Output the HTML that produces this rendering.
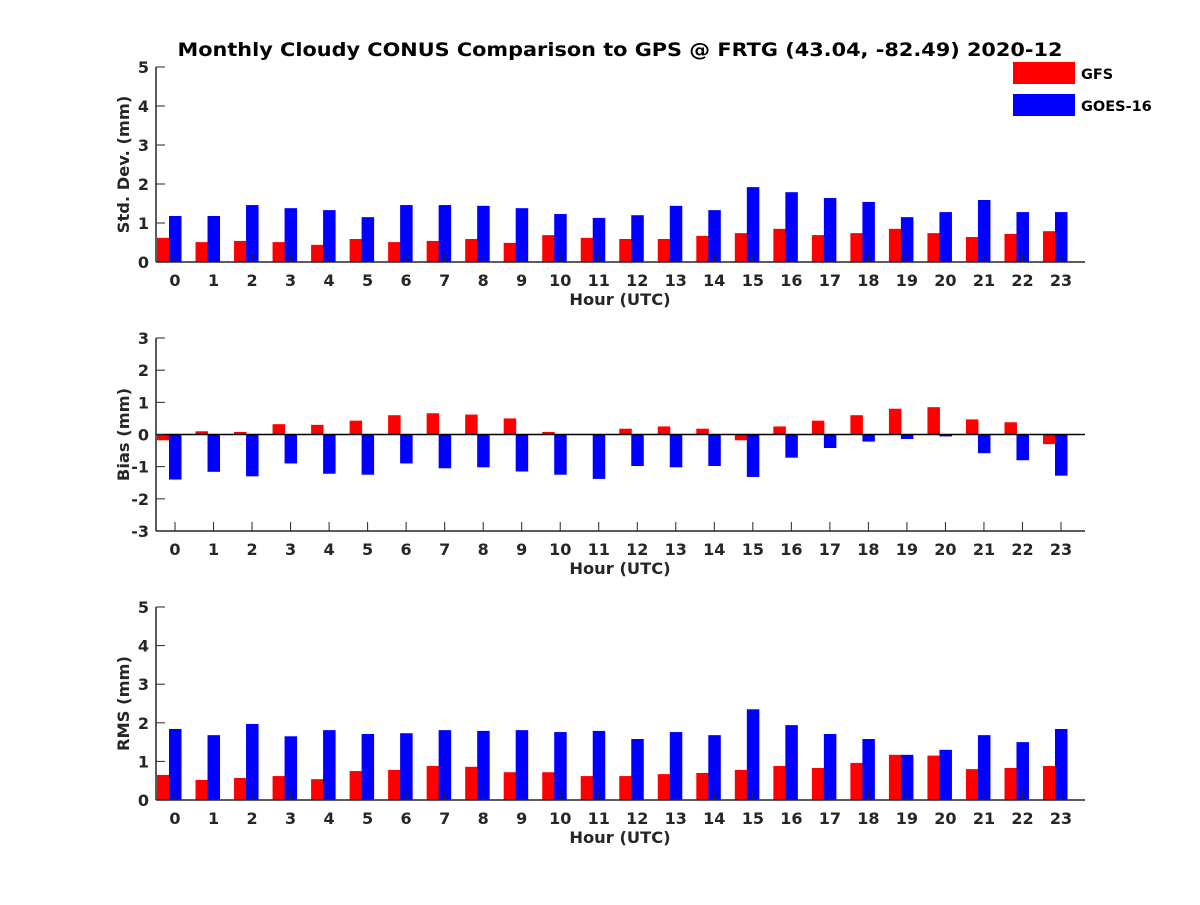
<!DOCTYPE html>
<html><head><meta charset="utf-8"><style>
body{margin:0;background:#fff;}
svg text{font-family:"DejaVu Sans","Liberation Sans",sans-serif;font-weight:bold;fill:#262626;}
</style></head><body>
<svg id="chart" width="1200" height="900">
<text x="620" y="56" text-anchor="middle" font-size="19" textLength="885" lengthAdjust="spacingAndGlyphs" style="fill:#000">Monthly Cloudy CONUS Comparison to GPS @ FRTG (43.04, -82.49) 2020-12</text>
<g>
<rect x="1013" y="62" width="62" height="22" fill="#ff0000"/>
<text x="1081" y="79" font-size="14.5" style="fill:#000">GFS</text>
<rect x="1013" y="94" width="62" height="22" fill="#0000ff"/>
<text x="1081" y="111" font-size="14.5" style="fill:#000">GOES-16</text>
</g>
</svg>
<script>
const hours=[0,1,2,3,4,5,6,7,8,9,10,11,12,13,14,15,16,17,18,19,20,21,22,23];
const stdGFS=[0.62,0.51,0.54,0.51,0.44,0.59,0.51,0.54,0.59,0.49,0.69,0.62,0.59,0.59,0.67,0.74,0.85,0.69,0.74,0.85,0.74,0.64,0.72,0.79];
const stdGOES=[1.18,1.18,1.46,1.38,1.33,1.15,1.46,1.46,1.44,1.38,1.23,1.13,1.2,1.44,1.33,1.92,1.79,1.64,1.54,1.15,1.28,1.59,1.28,1.28];
const biasGFS=[-0.18,0.1,0.08,0.32,0.3,0.43,0.6,0.66,0.62,0.5,0.08,0,0.18,0.25,0.18,-0.18,0.25,0.43,0.6,0.8,0.85,0.47,0.38,-0.3];
const biasGOES=[-1.4,-1.16,-1.3,-0.9,-1.22,-1.25,-0.9,-1.05,-1.02,-1.15,-1.25,-1.38,-0.98,-1.02,-0.98,-1.32,-0.72,-0.42,-0.22,-0.14,-0.06,-0.58,-0.8,-1.28];
const rmsGFS=[0.65,0.52,0.57,0.62,0.54,0.75,0.78,0.88,0.86,0.72,0.72,0.62,0.62,0.67,0.7,0.78,0.88,0.83,0.96,1.17,1.15,0.8,0.83,0.88];
const rmsGOES=[1.84,1.68,1.97,1.65,1.81,1.71,1.73,1.81,1.79,1.81,1.76,1.79,1.58,1.76,1.68,2.35,1.94,1.71,1.58,1.17,1.3,1.68,1.5,1.84];
const stdTicks=[0,1,2,3,4,5];
const biasTicks=[-3,-2,-1,0,1,2,3];
const rmsTicks=[0,1,2,3,4,5];
const svg=document.getElementById('chart');
const NS='http://www.w3.org/2000/svg';
function mk(tag,attrs,parent){const e=document.createElementNS(NS,tag);for(const k in attrs)e.setAttribute(k,attrs[k]);parent.appendChild(e);return e;}
const X0=156,X1=1085;
function xs(h){return 175+h*(1061-175)/23;}
function panel(name,top,bot,ymin,ymax,ticks,gfs,goes,ylabel){
  const g=mk('g',{},svg);
  
  
  const ys=v=>bot-(v-ymin)/(ymax-ymin)*(bot-top);
  const z=ys(Math.max(0,ymin));
  hours.forEach((h,i)=>{
    const c=xs(h);
    const v1=gfs[i],v2=goes[i];
    const r=mk('rect',{x:c-18,y:Math.min(ys(v1),z),width:12.5,height:Math.abs(ys(v1)-z),fill:'#ff0000'},g);
    
    
    const b=mk('rect',{x:c-6,y:Math.min(ys(v2),z),width:12.5,height:Math.abs(ys(v2)-z),fill:'#0000ff'},g);
    
    
  });
  if(ymin<0){mk('line',{x1:X0,x2:X1,y1:ys(0),y2:ys(0),stroke:'#000','stroke-width':1.5},g);}
  mk('line',{x1:X0,x2:X0,y1:top,y2:bot,stroke:'#262626','stroke-width':1.5},g);
  mk('line',{x1:X0,x2:X1,y1:bot,y2:bot,stroke:'#262626','stroke-width':1.5},g);
  ticks.forEach(t=>{
    const y=ys(t);
    mk('line',{x1:X0,x2:X0+9,y1:y,y2:y,stroke:'#262626','stroke-width':1},g);
    const tx=mk('text',{x:X0-7,y:y+6,'text-anchor':'end','font-size':16},g);tx.textContent=t;
    
    
  });
  hours.forEach(h=>{
    const c=xs(h);
    mk('line',{x1:c,x2:c,y1:bot,y2:bot-9,stroke:'#262626','stroke-width':1},g);
    const tx=mk('text',{x:c,y:bot+24,'text-anchor':'middle','font-size':16},g);tx.textContent=h;
    
    
  });
  const xl=mk('text',{x:620,y:bot+43,'text-anchor':'middle','font-size':16.3},g);xl.textContent='Hour (UTC)';
  
  
  const cy=(top+bot)/2;
  const yl=mk('text',{x:129,y:cy,'text-anchor':'middle','font-size':16.3,transform:'rotate(-90 129 '+cy+')'},g);yl.textContent=ylabel;
  
  
}
panel('std-dev',67,262,0,5,stdTicks,stdGFS,stdGOES,'Std. Dev. (mm)');
panel('bias',338,531,-3,3,biasTicks,biasGFS,biasGOES,'Bias (mm)');
panel('rms',607,800,0,5,rmsTicks,rmsGFS,rmsGOES,'RMS (mm)');
</script>
</body></html>
